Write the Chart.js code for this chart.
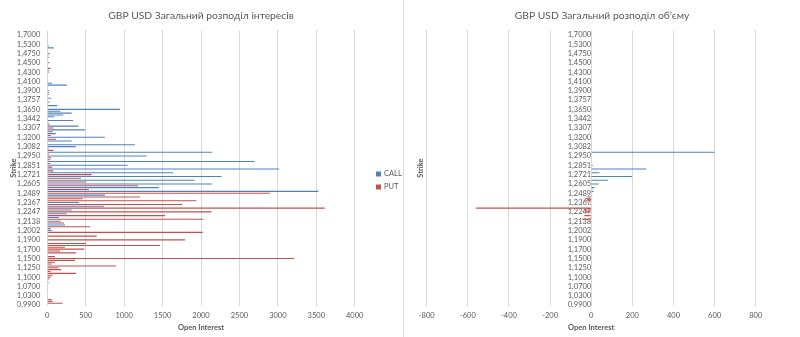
<!DOCTYPE html>
<html>
<head>
<meta charset="utf-8">
<title>GBP USD</title>
<script src="https://cdn.jsdelivr.net/npm/chart.js@4.4.0/dist/chart.umd.min.js"></script>
<style>
  html, body { margin: 0; padding: 0; background: #fff; }
  #wrap { position: relative; width: 800px; height: 337px; overflow: hidden; }
  #oi { position: absolute; left: 0; top: 0; }
  #vol { position: absolute; left: 404px; top: 0; }
  #sep { position: absolute; left: 403px; top: 0; width: 1px; height: 337px; background: #d9d9d9; }
</style>
</head>
<body>
<div id="wrap">
  <canvas id="oi" width="402" height="337"></canvas>
  <div id="sep"></div>
  <canvas id="vol" width="396" height="337"></canvas>
</div>
<script>
// strikes, top to bottom (every 5th one is labelled on the axis)
const strikes = [
  '1,8000', '1,7500', '1,7000', '1,6500', '1,6000', '1,5750', '1,5500', '1,5300', '1,5200', '1,5100',
  '1,5000', '1,4850', '1,4750', '1,4700', '1,4650', '1,4600', '1,4550', '1,4500', '1,4450', '1,4400',
  '1,4380', '1,4350', '1,4300', '1,4250', '1,4200', '1,4180', '1,4150', '1,4100', '1,4050', '1,4000',
  '1,3980', '1,3950', '1,3900', '1,3870', '1,3850', '1,3810', '1,3790', '1,3757', '1,3740', '1,3720',
  '1,3700', '1,3680', '1,3650', '1,3605', '1,3550', '1,3515', '1,3490', '1,3442', '1,3423', '1,3400',
  '1,3378', '1,3351', '1,3307', '1,3290', '1,3263', '1,3245', '1,3220', '1,3200', '1,3175', '1,3158',
  '1,3135', '1,3115', '1,3082', '1,3060', '1,3038', '1,3015', '1,2995', '1,2950', '1,2937', '1,2920',
  '1,2903', '1,2885', '1,2851', '1,2834', '1,2800', '1,2783', '1,2766', '1,2721', '1,2706', '1,2690',
  '1,2658', '1,2642', '1,2605', '1,2594', '1,2563', '1,2547', '1,2531', '1,2489', '1,2469', '1,2438',
  '1,2407', '1,2392', '1,2367', '1,2346', '1,2315', '1,2300', '1,2270', '1,2247', '1,2224', '1,2210',
  '1,2180', '1,2165', '1,2138', '1,2107', '1,2077', '1,2048', '1,2033', '1,2002', '1,1990', '1,1975',
  '1,1950', '1,1925', '1,1900', '1,1850', '1,1800', '1,1775', '1,1750', '1,1700', '1,1650', '1,1600',
  '1,1575', '1,1550', '1,1500', '1,1450', '1,1400', '1,1350', '1,1300', '1,1250', '1,1200', '1,1150',
  '1,1100', '1,1050', '1,1000', '1,0950', '1,0900', '1,0850', '1,0800', '1,0700', '1,0600', '1,0550',
  '1,0500', '1,0400', '1,0300', '1,0200', '1,0100', '1,0050', '1,0000', '0,9900'
];

// open interest per strike
const callOI = [
  0, 10, 0, 0, 10, 8, 10, 0, 20, 83,
  0, 0, 31, 15, 20, 0, 0, 30, 0, 0,
  0, 20, 20, 0, 0, 10, 0, 10, 61, 256,
  0, 0, 20, 20, 0, 0, 48, 0, 30, 0,
  130, 0, 946, 170, 317, 208, 90, 0, 335, 0,
  0, 404, 0, 490, 0, 110, 0, 750, 0, 317,
  0, 1140, 370, 0, 0, 2145, 0, 1292, 0, 0,
  2700, 0, 1045, 0, 3017, 0, 1638, 0, 2267, 0,
  1920, 0, 2145, 0, 1452, 0, 3528, 0, 750, 0,
  0, 0, 410, 0, 735, 0, 317, 0, 252, 0,
  150, 0, 174, 0, 230, 0, 44, 60, 0, 0,
  0, 10, 0, 10, 0, 0, 0, 0, 0, 0,
  0, 0, 0, 0, 0, 0, 0, 0, 0, 0,
  0, 0, 0, 0, 0, 0, 0, 0, 0, 5,
  0, 0, 0, 0, 0, 0, 0, 0
];
const putOI = [
  0, 8, 0, 0, 0, 0, 0, 0, 0, 0,
  0, 0, 0, 0, 0, 0, 0, 0, 0, 0,
  40, 0, 0, 0, 0, 0, 0, 0, 0, 0,
  0, 0, 0, 0, 20, 0, 0, 0, 0, 0,
  0, 0, 0, 0, 0, 0, 0, 10, 0, 13,
  30, 0, 80, 0, 70, 0, 45, 0, 113, 0,
  0, 0, 0, 15, 80, 0, 20, 0, 50, 40,
  0, 40, 0, 65, 0, 80, 0, 577, 0, 438,
  0, 503, 0, 1183, 0, 540, 0, 2895, 0, 1205,
  460, 1940, 0, 1755, 0, 3610, 0, 2137, 0, 1533,
  0, 2031, 0, 217, 0, 556, 0, 0, 2023, 0,
  643, 0, 1793, 0, 504, 1467, 230, 482, 165, 373,
  0, 100, 3212, 360, 100, 57, 894, 143, 178, 44,
  373, 70, 44, 26, 0, 18, 0, 10, 0, 0,
  0, 0, 0, 10, 57, 70, 200, 0
];

// traded volume per strike (puts drawn to the left)
const callVol = [
  0, 0, 0, 0, 0, 0, 0, 0, 0, 0,
  0, 0, 0, 0, 0, 0, 0, 0, 0, 0,
  0, 0, 0, 0, 0, 0, 0, 0, 0, 0,
  0, 0, 0, 0, 0, 0, 0, 0, 0, 0,
  0, 0, 0, 0, 0, 0, 0, 0, 0, 0,
  0, 0, 0, 0, 0, 0, 0, 0, 0, 0,
  0, 0, 0, 0, 0, 600, 0, 0, 0, 0,
  0, 0, 8, 0, 268, 0, 40, 0, 199, 0,
  82, 0, 37, 0, 16, 0, 11, 0, 5, 0,
  0, 0, 0, 0, 0, 0, 0, 0, 0, 0,
  0, 0, 0, 0, 0, 0, 0, 0, 0, 0,
  0, 0, 0, 0, 0, 0, 0, 0, 0, 0,
  0, 0, 0, 0, 0, 0, 0, 0, 0, 0,
  0, 0, 0, 0, 0, 0, 0, 0, 0, 0,
  0, 0, 0, 0, 0, 0, 0, 0
];
const putVol = [
  0, 0, 0, 0, 0, 0, 0, 0, 0, 0,
  0, 0, 0, 0, 0, 0, 0, 0, 0, 0,
  0, 0, 0, 0, 0, 0, 0, 0, 0, 0,
  0, 0, 0, 0, 0, 0, 0, 0, 0, 0,
  0, 0, 0, 0, 0, 0, 0, 0, 0, 0,
  0, 0, 0, 0, 0, 0, 0, 0, 0, 0,
  0, 0, 0, 0, 0, 0, 0, 0, 0, 0,
  0, 0, 0, 0, 0, 0, 0, 0, 0, 0,
  0, 0, 0, 0, 0, 0, 0, 0, 0, -20,
  -31, -28, 0, -8, 0, -561, -36, -28, 0, -33,
  -5, -44, -10, -4, 0, -4, 0, 0, -4, 0,
  -3, 0, -4, 0, -3, -3, 0, -2, 0, -2,
  0, 0, -3, 0, 0, 0, 0, 0, 0, 0,
  0, 0, 0, 0, 0, 0, 0, 0, 0, 0,
  0, 0, 0, 0, 0, 0, 0, 0
];

const BLUE = '#4F81BD';
const RED = '#C0504D';
const GREY_TEXT = '#595959';
const GRID = '#d9d9d9';
const FONT = 'Lato';

const tickFont = { family: FONT, size: 7.5 };
const axisTitleFont = { family: FONT, size: 7.5, weight: 'bold' };

function strikeTick(value, index) {
  return index % 5 === 2 ? strikes[index] : null;
}

// small legend to the right of the plot
const sideLegend = {
  id: 'sideLegend',
  afterDraw(chart, args, opts) {
    if (!opts.show) return;
    const ctx = chart.ctx;
    ctx.save();
    ctx.font = '7.5px ' + FONT;
    ctx.textBaseline = 'middle';
    chart.data.datasets.forEach((ds, i) => {
      const y = opts.y + i * 13;
      ctx.fillStyle = ds.backgroundColor;
      ctx.fillRect(opts.x, y - 2.5, 5, 5);
      ctx.fillStyle = GREY_TEXT;
      ctx.fillText(ds.label, opts.x + 8, y);
    });
    ctx.restore();
  }
};

const barDefaults = { grouped: false, barPercentage: 0.58, categoryPercentage: 1, borderWidth: 0 };

function titleOpts(text) {
  return {
    display: true,
    text: text,
    color: GREY_TEXT,
    font: { family: FONT, size: 10.3, weight: 'normal' },
    padding: { top: 9, bottom: 8.8 }
  };
}

// empty side axis: only its title (or just its width) is used
function blankAxis(position, width, weight, title, pad) {
  return {
    axis: 'y',
    type: 'category',
    position: position,
    weight: weight,
    ticks: { display: false },
    grid: { display: false },
    border: { display: false },
    title: {
      display: !!title,
      text: title || '',
      color: GREY_TEXT,
      font: axisTitleFont,
      padding: { top: pad || 0, bottom: 0 }
    },
    afterFit: s => { s.width = width; }
  };
}

function valueAxis(min, max, step) {
  return {
    min: min,
    max: max,
    ticks: { stepSize: step, callback: v => String(v), color: GREY_TEXT, font: tickFont, padding: 5, maxRotation: 0 },
    grid: { color: GRID, drawTicks: false },
    border: { display: false },
    title: { display: true, text: 'Open Interest', color: GREY_TEXT, font: axisTitleFont, padding: { top: 0, bottom: 4.5 } },
    afterFit: s => { s.height = 31; }
  };
}

// open interest
new Chart(document.getElementById('oi'), {
  type: 'bar',
  data: {
    labels: strikes,
    datasets: [
      { label: 'CALL', data: callOI, backgroundColor: BLUE, xAxisID: 'x', yAxisID: 'y' },
      { label: 'PUT', data: putOI, backgroundColor: RED, xAxisID: 'x', yAxisID: 'y' }
    ]
  },
  options: {
    indexAxis: 'y',
    responsive: false,
    animation: false,
    events: [],
    layout: { padding: 0 },
    datasets: { bar: barDefaults },
    plugins: {
      legend: { display: false },
      tooltip: { enabled: false },
      title: titleOpts('GBP USD Загальний розподіл інтересів'),
      sideLegend: { show: true, x: 376, y: 174 }
    },
    scales: {
      x: valueAxis(0, 4000, 500),
      strikeTitle: blankAxis('left', 17.3, 2, 'Strike', 9.5),
      y: {
        position: 'left',
        weight: 0,
        ticks: { autoSkip: false, callback: strikeTick, color: GREY_TEXT, font: tickFont, padding: 7 },
        grid: { display: false, drawTicks: false },
        border: { display: false },
        afterFit: s => { s.width = 30; }
      },
      legendSpace: blankAxis('right', 47.3, 0)
    }
  },
  plugins: [sideLegend]
});

// volume
new Chart(document.getElementById('vol'), {
  type: 'bar',
  data: {
    labels: strikes,
    datasets: [
      { label: 'CALL', data: callVol, backgroundColor: BLUE, xAxisID: 'x', yAxisID: 'y' },
      { label: 'PUT', data: putVol, backgroundColor: RED, xAxisID: 'x', yAxisID: 'y' }
    ]
  },
  options: {
    indexAxis: 'y',
    responsive: false,
    animation: false,
    events: [],
    layout: { padding: 0 },
    datasets: { bar: barDefaults },
    plugins: {
      legend: { display: false },
      tooltip: { enabled: false },
      title: titleOpts('GBP USD Загальний розподіл об’єму'),
      sideLegend: { show: false }
    },
    scales: {
      x: valueAxis(-800, 800, 200),
      strikeTitle: blankAxis('left', 22.7, 2, 'Strike', 12),
      y: {
        position: { x: 0 },
        ticks: { autoSkip: false, callback: strikeTick, color: GREY_TEXT, font: tickFont, padding: 7 },
        grid: { display: false },
        border: { display: false }
      },
      rightSpace: blankAxis('right', 44.3, 0)
    }
  },
  plugins: [sideLegend]
});
</script>
</body>
</html>
